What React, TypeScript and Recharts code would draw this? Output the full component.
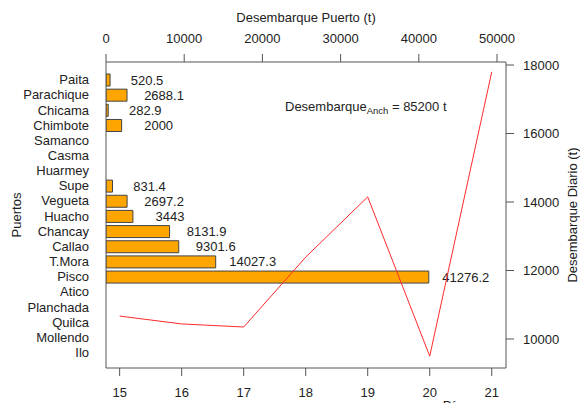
import {
  Bar,
  BarChart,
  LabelList,
  Label,
  Line,
  LineChart,
  XAxis,
  YAxis,
} from "recharts";

const ports = [
  "Paita",
  "Parachique",
  "Chicama",
  "Chimbote",
  "Samanco",
  "Casma",
  "Huarmey",
  "Supe",
  "Vegueta",
  "Huacho",
  "Chancay",
  "Callao",
  "T.Mora",
  "Pisco",
  "Atico",
  "Planchada",
  "Quilca",
  "Mollendo",
  "Ilo",
];
const portLandings = [
  520.5, 2688.1, 282.9, 2000, 0, 0, 0, 831.4, 2697.2, 3443, 8131.9, 9301.6,
  14027.3, 41276.2, 0, 0, 0, 0, 0,
];

const days = [15, 16, 17, 18, 19, 20, 21];
const dailyLandings = [10670, 10440, 10350, 12390, 14150, 9500, 17800];

const topTicks = [0, 10000, 20000, 30000, 40000, 50000];
const rightTicks = [10000, 12000, 14000, 16000, 18000];

const W = 580;
const H = 403;
const FONT = "'Liberation Sans', Arial, sans-serif";
const INK = "#222";
const BOX = "#555";

const portData = ports.map((port, i) => ({ port, total: portLandings[i] }));
const dayData = days.map((day, i) => ({ day, total: dailyLandings[i] }));

const tickStyle = { fill: INK, fontSize: 13, fontFamily: FONT };

const ValueLabel = (props: any) => {
  const { x, y, width, height, value } = props;
  if (!value) return null;
  return (
    <text
      x={x + width + 37}
      y={y + height / 2}
      textAnchor="middle"
      dominantBaseline="central"
      fill={INK}
      fontSize={13}
      fontFamily={FONT}
    >
      {String(value)}
    </text>
  );
};

export default function App() {
  return (
    <div
      style={{
        position: "absolute",
        left: 0,
        top: 0,
        width: W,
        height: H,
        background: "#fff",
        fontFamily: FONT,
      }}
    >
      <div style={{ position: "absolute", left: 0, top: 0 }}>
        <BarChart
          width={W}
          height={H}
          data={portData}
          layout="vertical"
          margin={{ top: 32, right: 74, bottom: 35, left: 16 }}
        >
          <XAxis
            xAxisId="top"
            type="number"
            orientation="top"
            height={30}
            domain={[0, 51150]}
            allowDataOverflow
            ticks={topTicks}
            tick={tickStyle}
            tickSize={8}
            tickMargin={11}
            stroke={BOX}
            tickLine={{ stroke: BOX }}
          >
            <Label
              value="Desembarque Puerto (t)"
              position="top"
              offset={10}
              fill={INK}
              fontSize={13}
              fontFamily={FONT}
            />
          </XAxis>
          <YAxis
            type="category"
            dataKey="port"
            width={90}
            tick={tickStyle}
            tickLine={false}
            tickSize={0}
            tickMargin={17}
            interval={0}
            padding={{ top: 10, bottom: 8 }}
            stroke={BOX}
          >
            <Label
              value="Puertos"
              position="center"
              angle={-90}
              dx={-45}
              fill={INK}
              fontSize={13}
              fontFamily={FONT}
            />
          </YAxis>
          <Bar
            xAxisId="top"
            dataKey="total"
            fill="#FFA500"
            stroke="#444"
            strokeWidth={1}
            barSize={12}
            isAnimationActive={false}
          >
            <LabelList dataKey="total" content={<ValueLabel />} />
          </Bar>
        </BarChart>
      </div>

      <div style={{ position: "absolute", left: 0, top: 0 }}>
        <LineChart
          width={W}
          height={H}
          data={dayData}
          margin={{ top: 62, right: 14, bottom: 5, left: 106 }}
        >
          <XAxis
            type="number"
            dataKey="day"
            height={30}
            domain={[14.78, 21.23]}
            allowDataOverflow
            ticks={days}
            tick={tickStyle}
            tickSize={8}
            tickMargin={12}
            stroke={BOX}
            tickLine={{ stroke: BOX }}
          >
            <Label
              value="Días"
              position="bottom"
              offset={3}
              dx={150}
              fill={INK}
              fontSize={13}
              fontFamily={FONT}
            />
          </XAxis>
          <YAxis
            type="number"
            orientation="right"
            width={60}
            domain={[9153, 18088]}
            allowDataOverflow
            ticks={rightTicks}
            tick={tickStyle}
            tickSize={8}
            tickMargin={9}
            stroke={BOX}
            tickLine={{ stroke: BOX }}
          >
            <Label
              value="Desembarque Diario (t)"
              position="center"
              angle={-90}
              dx={36}
              fill={INK}
              fontSize={13}
              fontFamily={FONT}
            />
          </YAxis>
          <Line
            type="linear"
            dataKey="total"
            stroke="#FF2A2A"
            strokeWidth={1}
            dot={false}
            activeDot={false}
            isAnimationActive={false}
          />
        </LineChart>
      </div>

      <svg
        width={W}
        height={H}
        style={{ position: "absolute", left: 0, top: 0, pointerEvents: "none" }}
      >
        <text x={285} y={111} fill={INK} fontSize={13} fontFamily={FONT}>
          Desembarque
          <tspan fontSize={9.5} dy={3}>
            Anch
          </tspan>
          <tspan dy={-3}> = 85200 t</tspan>
        </text>
      </svg>
    </div>
  );
}
